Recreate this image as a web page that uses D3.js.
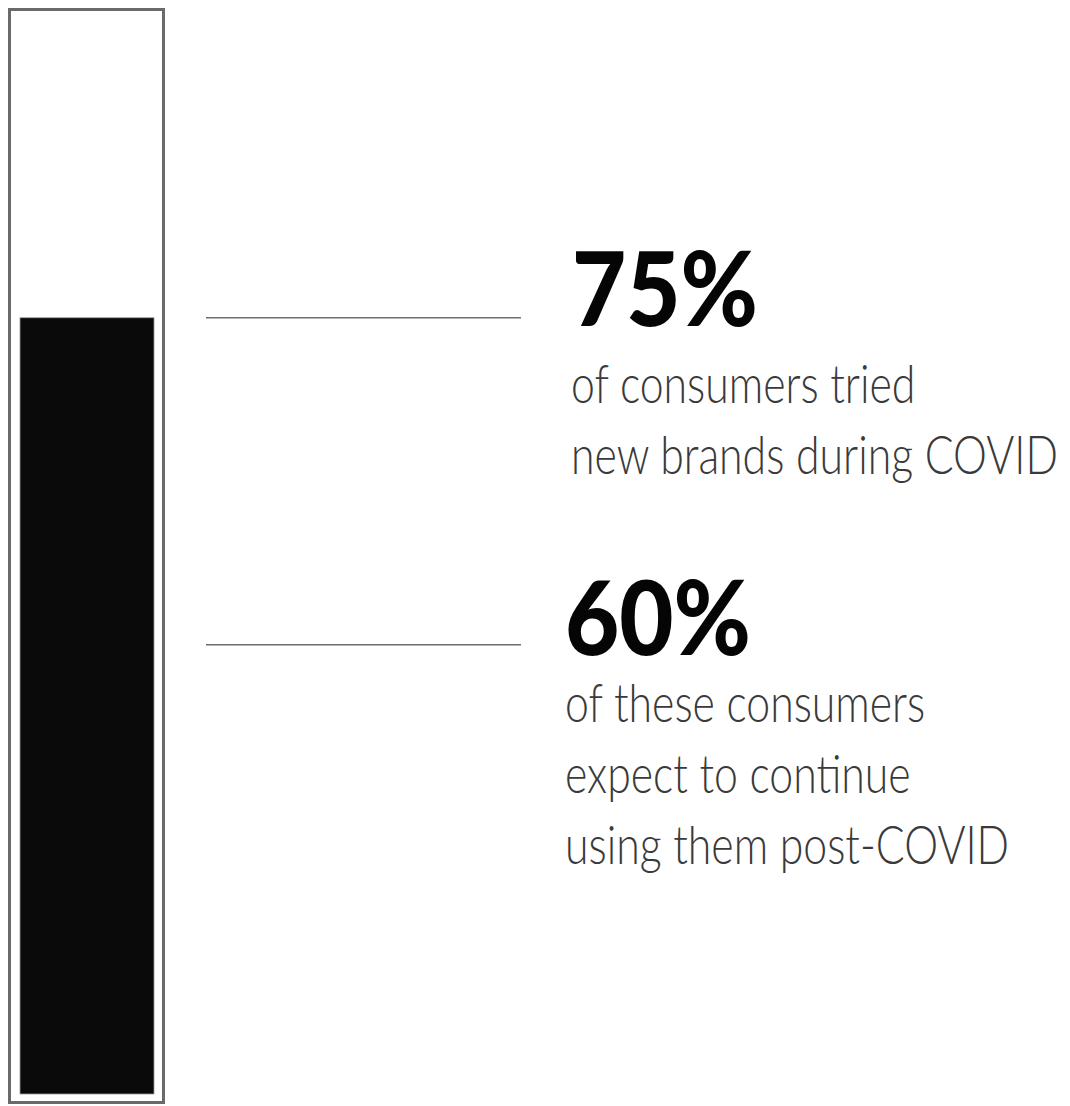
<!DOCTYPE html>
<html>
<head>
<meta charset="utf-8">
<script src="https://cdn.jsdelivr.net/npm/d3@7"></script>
<style>
  html, body { margin: 0; padding: 0; background: #fff; }
  svg { display: block; }
</style>
</head>
<body>
<svg id="chart" width="1070" height="1106"></svg>
<script>
// Share of consumers who tried new brands (the bar), plus the two callouts
const barValue = 75;
const statValues = [75, 60];
const statLabels = ["75%", "60%"];
const statLines = [
  ["of consumers tried", "new brands during COVID"],
  ["of these consumers", "expect to continue", "using them post-COVID"]
];

const svg = d3.select("#chart");

// Layout
const frame = { x: 9.5, y: 9.5, w: 154, h: 1093 };
const bar = { x: 20, w: 134, bottom: 1094, top100: 59 };
const calloutGap = 327;            // vertical distance between the two callout rows
const leader = { x1: 206, x2: 521 };
const numX = [572, 565];
const subX = [571, 565];
const numDy = [8, 10];             // number baseline below its leader line
const subDy = [85, 77];            // first sub-line baseline below its leader line
const subStep = 71;
const numWidth = 186;              // rendered width of a headline figure
const subWidth = 487;              // rendered width of the longest sub-line

const FONT = "Lato, 'Open Sans', sans-serif";

const y = d3.scaleLinear().domain([0, 100]).range([bar.bottom, bar.top100]);

// Outer frame
svg.append("rect")
  .attr("x", frame.x).attr("y", frame.y)
  .attr("width", frame.w).attr("height", frame.h)
  .attr("fill", "none")
  .attr("stroke", "#6a6a6a")
  .attr("stroke-width", 3);

// Filled bar
svg.append("rect")
  .attr("x", bar.x)
  .attr("y", y(barValue))
  .attr("width", bar.w)
  .attr("height", y(0) - y(barValue))
  .attr("fill", "#0a0a0a")
  .attr("stroke", "#9a9a9a")
  .attr("stroke-width", 0.8);

// Callouts
const rowY = i => y(statValues[0]) + i * calloutGap;

const rows = svg.selectAll("g.callout")
  .data(statValues)
  .join("g")
  .attr("class", "callout");

rows.append("line")
  .attr("x1", leader.x1).attr("x2", leader.x2)
  .attr("y1", (d, i) => rowY(i)).attr("y2", (d, i) => rowY(i))
  .attr("stroke", "#6f6f6f")
  .attr("stroke-width", 1.6);

const nums = rows.append("text")
  .attr("class", "num")
  .attr("font-family", FONT)
  .attr("font-weight", 900)
  .attr("font-size", 103)
  .attr("fill", "#050505")
  .text((d, i) => statLabels[i]);

rows.each(function (d, i) {
  d3.select(this).selectAll("text.sub")
    .data(statLines[i])
    .join("text")
    .attr("class", "sub")
    .attr("font-family", FONT)
    .attr("font-weight", 300)
    .attr("font-size", 53)
    .attr("fill", "#3a3a3a")
    .text(t => t);
});

// The face is set in a narrow style: squeeze the type horizontally to fit
const numScale = numWidth / nums.nodes()[0].getComputedTextLength();
const firstSubs = svg.selectAll("g.callout").filter((d, i) => i === 0).selectAll("text.sub").nodes();
const longest = d3.max(firstSubs, n => n.getComputedTextLength());
const subScale = subWidth / longest;

nums.attr("transform", (d, i) =>
  `translate(${numX[i]},${rowY(i) + numDy[i]}) scale(${numScale},1)`);

rows.each(function (d, i) {
  d3.select(this).selectAll("text.sub")
    .attr("transform", (t, j) =>
      `translate(${subX[i]},${rowY(i) + subDy[i] + j * subStep}) scale(${subScale},1)`);
});
</script>
</body>
</html>
